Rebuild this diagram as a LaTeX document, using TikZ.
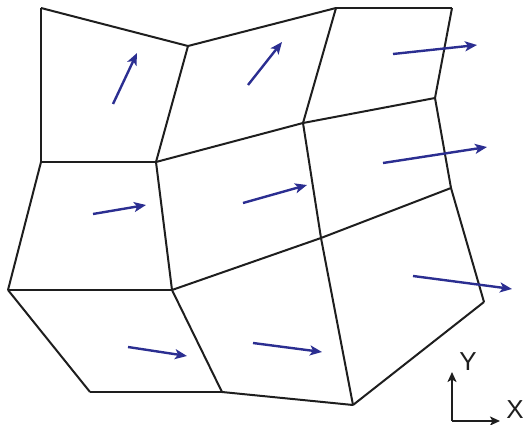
\documentclass[tikz,border=0pt]{standalone}
\usepackage{fontspec}
\setsansfont{Liberation Sans}
\usepackage{xcolor}
\usetikzlibrary{arrows.meta,calc}
\definecolor{cMesh}{HTML}{1E1E1E}
\definecolor{cVel}{HTML}{2B2E91}
\tikzset{
  fig/edge/.style ={draw=cMesh, line width=2pt, line join=round},
  fig/vel/.style  ={-{Stealth[length=12pt, width=10pt, inset=3pt]},
                    draw=cVel, line width=2.4pt},
  fig/axis/.style ={-{Stealth[length=10pt, width=9pt, inset=2.5pt]},
                    draw=cMesh, line width=2pt},
  fig/axlbl/.style={font=\sffamily\fontsize{26}{26}\selectfont, text=cMesh,
                    inner sep=0pt}
}

\begin{document}
\begin{tikzpicture}[x=1pt, y=-1pt]
    \useasboundingbox (0,0) rectangle (523,425);
    % mesh vertices, row by row
    \foreach \n/\xpos/\ypos in {a/41/8,   b/188/46,  c/336/8,   d/452/8,
                                e/41/162, f/156/162, g/303/123, h/435/98,
                                i/8/290,  j/172/290, k/321/238, l/451/188,
                                m/90/392, n/222/392, o/353/405, p/484/302} {
      \coordinate (\n) at (\xpos,\ypos);
    }
    % cell edges
    \foreach \s/\t in {a/b, b/c, c/d, e/f, f/g, g/h, i/j, j/k, k/l, m/n, n/o, o/p,
                       a/e, b/f, c/g, d/h, e/i, f/j, g/k, h/l, i/m, j/n, k/o, l/p} {
      \draw[fig/edge] (\s) -- (\t);
    }
    % cell velocities
    \foreach \i/\xa/\ya/\xb/\yb in {1/113/104/137/53,  2/248/85/282/42,
                                    3/393/54/477/45,   4/93/214/146/205,
                                    5/243/203/307/185, 6/383/163/487/147,
                                    7/128/347/187/356, 8/253/343/322/352,
                                    9/413/276/512/289} {
      \coordinate (vs\i) at (\xa,\ya);
      \coordinate (ve\i) at (\xb,\yb);
      \draw[fig/vel] (vs\i) -- (ve\i);
    }
    % axes
    \coordinate (O) at (452,421);
    \coordinate (Yend) at (452,372);
    \coordinate (Xend) at (500,421);
    \draw[fig/axis] (O) -- (Yend);
    \draw[fig/axis] (O) -- (Xend);
    \node[fig/axlbl] (Ylbl) at (468,362) {Y};
    \node[fig/axlbl] (Xlbl) at (515,410) {X};
  \end{tikzpicture}
\end{document}
